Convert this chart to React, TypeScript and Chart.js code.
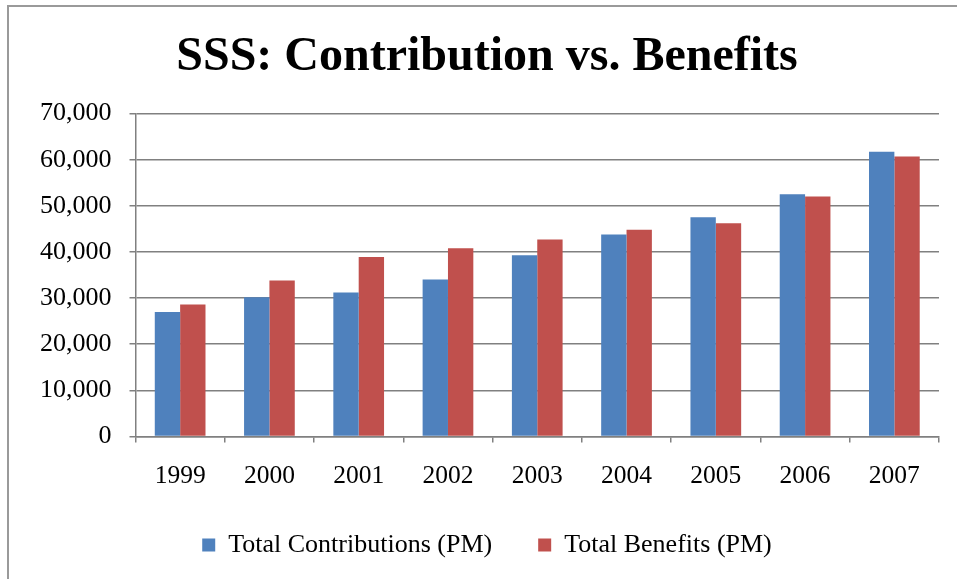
import React, { useEffect, useRef } from "react";
import { Chart, registerables } from "chart.js";

Chart.register(...registerables);

const years = ["1999", "2000", "2001", "2002", "2003", "2004", "2005", "2006", "2007"];
const contributions = [27000, 30200, 31200, 34000, 39300, 43800, 47500, 52500, 61700];
const benefits = [28600, 33800, 38900, 40800, 42700, 44800, 46200, 52000, 60700];
const titleText = "SSS: Contribution vs. Benefits";
const seriesNames = ["Total Contributions (PM)", "Total Benefits (PM)"];
const yMin = 0;
const yMax = 70000;
const yStep = 10000;

const FONT = '"Liberation Serif", "Times New Roman", serif';
const GRID = "#808080";

export default function App() {
  const ref = useRef<HTMLCanvasElement | null>(null);

  useEffect(() => {
    document.body.style.margin = "0";
    const canvas = ref.current;
    if (!canvas) return;
    const chart = new Chart(canvas, {
      type: "bar",
      data: {
        labels: years,
        datasets: [
          {
            label: seriesNames[0],
            data: contributions,
            backgroundColor: "#4F81BD",
            borderWidth: 0,
          },
          {
            label: seriesNames[1],
            data: benefits,
            backgroundColor: "#C0504D",
            borderWidth: 0,
          },
        ],
      },
      options: {
        responsive: false,
        animation: false,
        devicePixelRatio: 1,
        datasets: {
          bar: { categoryPercentage: 0.568, barPercentage: 1 },
        },
        layout: { padding: { left: 26, right: 18, top: 0, bottom: 11 } },
        plugins: {
          title: {
            display: true,
            text: titleText,
            color: "#000",
            font: { family: FONT, size: 48, weight: "bold" },
            padding: { top: 22, bottom: 27 },
          },
          legend: {
            display: true,
            position: "bottom",
            labels: {
              color: "#000",
              font: { family: FONT, size: 26 },
              boxWidth: 13,
              boxHeight: 13,
              padding: 46,
            },
          },
          tooltip: { enabled: false },
        },
        scales: {
          x: {
            offset: true,
            grid: {
              display: true,
              offset: true,
              drawOnChartArea: false,
              drawTicks: true,
              tickLength: 6,
              color: GRID,
              lineWidth: 1.5,
            },
            border: { display: true, color: GRID, width: 1.5 },
            ticks: {
              color: "#000",
              font: { family: FONT, size: 25.5 },
              padding: 19,
              maxRotation: 0,
            },
            afterFit: (scale: any) => {
              scale.height -= 25;
            },
          },
          y: {
            min: yMin,
            max: yMax,
            grid: {
              display: true,
              drawOnChartArea: true,
              drawTicks: true,
              tickLength: 6,
              color: GRID,
              lineWidth: 1.5,
            },
            border: { display: true, color: GRID, width: 1.5 },
            ticks: {
              stepSize: yStep,
              color: "#000",
              font: { family: FONT, size: 26 },
              padding: 18,
              callback: (v: any) => Number(v).toLocaleString("en-US"),
            },
            afterFit: (scale: any) => {
              scale.width -= 13;
            },
          },
        },
      },
    });
    return () => chart.destroy();
  }, []);

  return (
    <div style={{ position: "absolute", left: 0, top: 0, width: 957, height: 579, background: "#fff", overflow: "hidden" }}>
      <div
        style={{
          position: "absolute",
          left: 7,
          top: 5,
          width: 960,
          height: 590,
          borderLeft: "2px solid #9a9a9a",
          borderTop: "2px solid #9a9a9a",
        }}
      />
      <canvas ref={ref} width={948} height={572} style={{ position: "absolute", left: 9, top: 7, width: 948, height: 572 }} />
    </div>
  );
}
